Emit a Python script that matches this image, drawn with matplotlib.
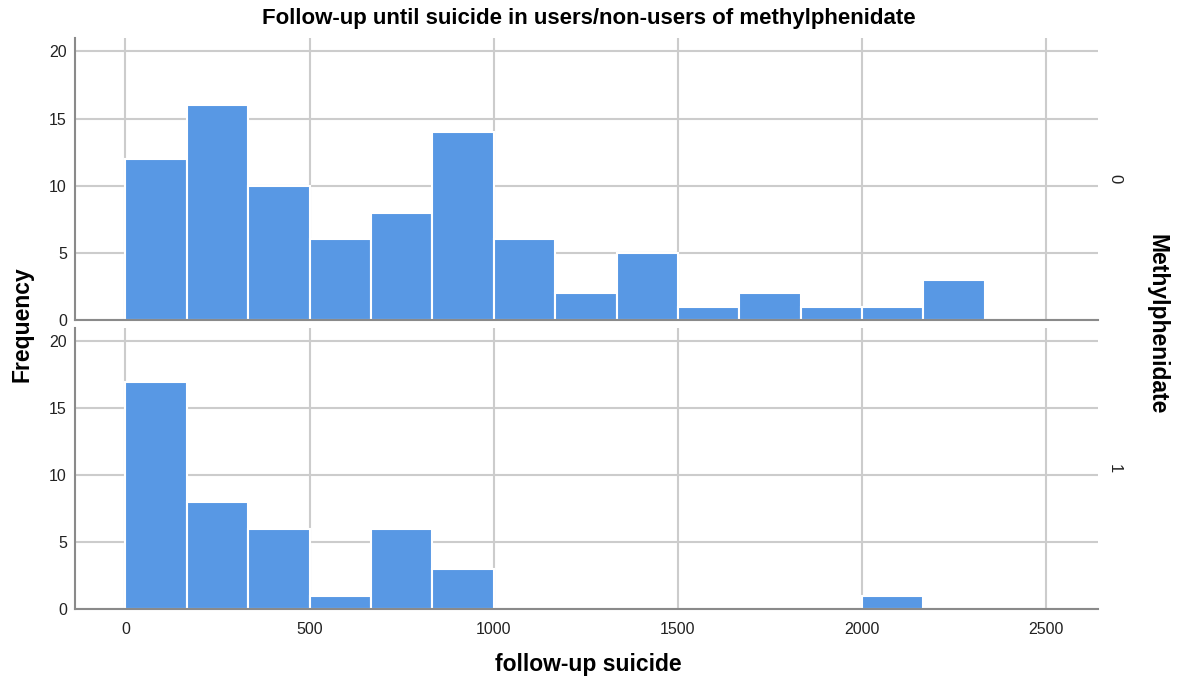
import matplotlib.pyplot as plt
import numpy as np

plt.rcParams["font.family"] = ["Liberation Sans", "DejaVu Sans"]

# Counts per bin of follow-up days, split by methylphenidate use
bin_start = 0
bin_width = 2500 / 15
counts_nonusers = [12, 16, 10, 6, 8, 14, 6, 2, 5, 1, 2, 1, 1, 3]
counts_users = [17, 8, 6, 1, 6, 3, 0, 0, 0, 0, 0, 0, 1, 0]
group_labels = ["0", "1"]
x_ticks = [0, 500, 1000, 1500, 2000, 2500]
y_ticks = [0, 5, 10, 15, 20]

bar_color = "#5898e4"
grid_color = "#cccccc"
spine_color = "#8a8a8a"

fig = plt.figure(figsize=(11.77, 6.86), dpi=100)
left, width = 0.064, 0.869
ax_top = fig.add_axes([left, 0.5335, width, 0.411])
ax_bot = fig.add_axes([left, 0.1122, width, 0.4097])

for ax, counts, label in zip((ax_top, ax_bot), (counts_nonusers, counts_users), group_labels):
    edges = bin_start + bin_width * np.arange(len(counts))
    heights = np.asarray(counts, dtype=float)
    keep = heights > 0
    ax.bar(edges[keep], heights[keep], width=bin_width, align="edge",
           color=bar_color, edgecolor="white", linewidth=1.5, zorder=3)
    ax.set_xlim(-136, 2641)
    ax.set_ylim(0, 21)
    ax.set_xticks(x_ticks)
    ax.set_yticks(y_ticks)
    ax.grid(True, color=grid_color, linewidth=1.5, zorder=0)
    ax.set_axisbelow(True)
    for side in ("top", "right"):
        ax.spines[side].set_visible(False)
    for side in ("left", "bottom"):
        ax.spines[side].set_color(spine_color)
        ax.spines[side].set_linewidth(1.5)
        ax.spines[side].set_zorder(4)
    ax.tick_params(length=0, labelsize=11.5, colors="#222222", pad=6)
    ax.text(1.016, 0.5, label, transform=ax.transAxes, rotation=-90,
            ha="center", va="center", fontsize=12, color="#222222")

ax_top.tick_params(labelbottom=False)
ax_bot.tick_params(axis="x", pad=9)

fig.text(0.5, 0.973, "Follow-up until suicide in users/non-users of methylphenidate",
         ha="center", va="center", fontsize=16, fontweight="bold")
fig.text(0.019, 0.528, "Frequency", rotation=90, ha="center", va="center",
         fontsize=16.5, fontweight="bold")
fig.text(0.983, 0.528, "Methylphenidate", rotation=-90, ha="center", va="center",
         fontsize=16.5, fontweight="bold")
fig.text(0.5, 0.031, "follow-up suicide", ha="center", va="center",
         fontsize=16.5, fontweight="bold")

fig.savefig("out.png", dpi=100)
